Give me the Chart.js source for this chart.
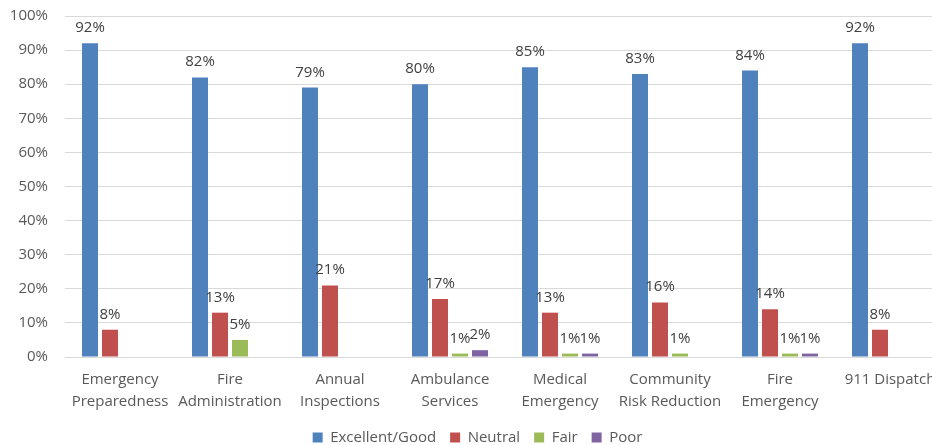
<!DOCTYPE html>
<html>
<head>
<meta charset="utf-8">
<script src="https://cdn.jsdelivr.net/npm/chart.js@4.4.1/dist/chart.umd.min.js"></script>
<style>
  html, body { margin: 0; padding: 0; background: #fff; overflow: hidden; }
  .wrap { width: 966px; height: 455px; position: relative; }
</style>
</head>
<body>
<div class="wrap"><canvas id="ratingsChart"></canvas></div>
<script>
// Survey ratings by service area (percent)
const categories = [
  ['Emergency', 'Preparedness'],
  ['Fire', 'Administration'],
  ['Annual', 'Inspections'],
  ['Ambulance', 'Services'],
  ['Medical', 'Emergency'],
  ['Community', 'Risk Reduction'],
  ['Fire', 'Emergency'],
  '911 Dispatch'
];
const excellentGood = [92, 82, 79, 80, 85, 83, 84, 92];
const neutral       = [8, 13, 21, 17, 13, 16, 14, 8];
const fair          = [0, 5, 0, 1, 1, 1, 1, 0];
const poor          = [0, 0, 0, 2, 1, 0, 1, 0];
const yTicks        = [0, 10, 20, 30, 40, 50, 60, 70, 80, 90, 100];

const FONT = '"Open Sans", Lato, sans-serif';
const textColor = '#595959';

// draws the value above each bar (skips zeros)
const barLabels = {
  id: 'barLabels',
  afterDatasetsDraw(chart) {
    const c = chart.ctx;
    c.save();
    c.font = '15px ' + FONT;
    c.fillStyle = '#404040';
    c.textAlign = 'center';
    c.textBaseline = 'alphabetic';
    chart.data.datasets.forEach((ds, i) => {
      chart.getDatasetMeta(i).data.forEach((bar, j) => {
        const v = ds.data[j];
        if (!v) return;
        c.fillText(v + '%', bar.x, bar.y - 11);
      });
    });
    c.restore();
  }
};

const ctx = document.getElementById('ratingsChart').getContext('2d');
const ratingsChart = new Chart(ctx, {
  type: 'bar',
  data: {
    labels: categories,
    datasets: [
      { label: 'Excellent/Good', data: excellentGood, backgroundColor: '#4F81BD' },
      { label: 'Neutral',        data: neutral,       backgroundColor: '#C0504D' },
      { label: 'Fair',           data: fair,          backgroundColor: '#9BBB59' },
      { label: 'Poor',           data: poor,          backgroundColor: '#8064A2' }
    ]
  },
  options: {
    responsive: true,
    maintainAspectRatio: false,
    animation: false,
    datasets: {
      bar: { categoryPercentage: 0.727, barPercentage: 0.8 }
    },
    layout: { padding: { top: 0, left: 10, right: 21, bottom: 0 } },
    scales: {
      x: {
        grid: { display: false, drawTicks: false },
        border: { display: true, color: '#d9d9d9' },
        // keep the plot edges where the original has them
        afterFit: axis => { axis.paddingLeft = 0; axis.paddingRight = 0; axis.height = 59; },
        ticks: {
          color: textColor,
          font: { family: FONT, size: 15, lineHeight: 1.467 },
          padding: 12,
          maxRotation: 0,
          autoSkip: false
        }
      },
      y: {
        min: 0,
        max: 100,
        afterBuildTicks: axis => { axis.ticks = yTicks.map(v => ({ value: v })); },
        afterFit: axis => { axis.width = 55; axis.paddingTop = 16; axis.paddingBottom = 0; },
        grid: { color: '#d9d9d9', drawTicks: false },
        border: { display: false },
        ticks: {
          color: textColor,
          font: { family: FONT, size: 15 },
          padding: 17,
          callback: v => v + '%'
        }
      }
    },
    plugins: {
      legend: {
        position: 'bottom',
        labels: {
          color: textColor,
          font: { family: FONT, size: 15 },
          boxWidth: 10,
          boxHeight: 10,
          padding: 14
        }
      },
      tooltip: { enabled: false }
    }
  },
  plugins: [barLabels]
});
</script>
</body>
</html>
